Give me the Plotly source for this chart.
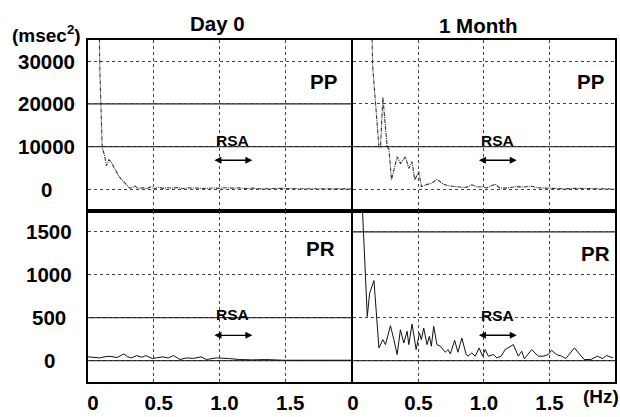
import plotly.graph_objects as go

# ---------------- data ----------------
pp_day0_f = [0.075, 0.083, 0.09, 0.1, 0.108, 0.124, 0.14, 0.159, 0.18, 0.2, 0.217, 0.235,
             0.255, 0.275, 0.293, 0.318, 0.34, 0.356, 0.375, 0.394, 0.42, 0.45, 0.475, 0.5,
             0.54, 0.57, 0.6, 0.64, 0.68, 0.72, 0.76, 0.8, 0.85, 0.9, 0.95, 1.0, 1.05, 1.1,
             1.15, 1.2, 1.25, 1.3, 1.35, 1.4, 1.45, 1.5, 1.55, 1.6, 1.65, 1.7, 1.75, 1.8,
             1.85, 1.9, 1.95, 2.0]
pp_day0_v = [60000, 36000, 28000, 18000, 9700, 8200, 5500, 6900, 6200, 5000, 3900, 3000,
             2300, 1700, 1150, 230, 400, 780, 300, 230, 350, 150, 540, 100,
             450, 200, 350, 250, 400, 150, 300, 200, 250, 150, 300, 200, 350, 250,
             300, 150, 250, 100, 200, 150, 200, 100, 150, 100, 150, 100, 120, 80,
             100, 80, 100, 80]

pp_month_f = [0.13, 0.147, 0.15, 0.198, 0.21, 0.228, 0.261, 0.274, 0.294, 0.337, 0.362, 0.40,
              0.426, 0.451, 0.471, 0.502, 0.522, 0.553, 0.60, 0.641, 0.69, 0.73, 0.755, 0.80,
              0.85, 0.882, 0.908, 0.95, 0.983, 1.02, 1.06, 1.085, 1.12, 1.16, 1.2, 1.25,
              1.3, 1.36, 1.42, 1.48, 1.55, 1.62, 1.7, 1.78, 1.85, 1.92, 2.0]
pp_month_v = [60000, 35000, 28900, 9900, 9900, 21550, 9900, 9500, 2170, 7600, 6050, 7600,
              4880, 6440, 2170, 4100, 620, 1000, 1400, 2300, 1200, 790, 700, 500,
              400, 620, 1020, 500, 600, 300, 800, 1200, 300, 250, 400, 600,
              500, 700, 300, 250, 100, 80, 200, 100, 0, 80, 50]

pr_day0_f = [0, 0.05, 0.09, 0.13, 0.167, 0.22, 0.273, 0.3, 0.33, 0.37, 0.41, 0.44, 0.49,
             0.53, 0.57, 0.61, 0.65, 0.70, 0.75, 0.80, 0.86, 0.90, 0.975, 1.076, 1.15,
             1.25, 1.35, 1.48, 1.6, 1.7, 1.8, 1.9, 2.0]
pr_day0_v = [43, 35, 31, 45, 50, 35, 78, 45, 31, 58, 38, 58, 23,
             35, 43, 30, 58, 12, 31, 25, 43, 12, 31, 23, 12,
             8, 12, 4, 4, 6, 4, 5, 4]

pr_month_f = [0.071, 0.109, 0.127, 0.16, 0.198, 0.228, 0.248, 0.286, 0.312, 0.337,
              0.362, 0.388, 0.413, 0.426, 0.451, 0.482, 0.507, 0.522, 0.540, 0.565,
              0.583, 0.598, 0.616, 0.641, 0.667, 0.705, 0.725, 0.743, 0.776, 0.801,
              0.831, 0.862, 0.877, 0.907, 0.933, 0.963, 0.989, 1.009, 1.034, 1.072,
              1.098, 1.131, 1.161, 1.224, 1.262, 1.288, 1.308, 1.364, 1.414, 1.452,
              1.49, 1.516, 1.554, 1.593, 1.624, 1.69, 1.765, 1.815, 1.866, 1.905,
              1.935, 1.985]
pr_month_v = [1800, 514, 785, 933, 147, 244, 186, 406, 244, 70,
              360, 205, 341, 186, 425, 128, 321, 244, 379, 186,
              283, 167, 399, 186, 167, 97, 128, 78, 236, 97,
              263, 81, 51, 89, 51, 147, 51, 128, 51, 70,
              31, 51, 128, 186, 51, 109, 20, 128, 51, 51,
              70, 120, 70, 51, 23, 147, 12, 12, 51, 23,
              58, 31]

x_ticks = [0, 0.5, 1.0, 1.5]
x_tick_text = ["0", "0.5", "1.0", "1.5"]
pp_ticks = [0, 10000, 20000, 30000]
pr_ticks = [0, 500, 1000, 1500]
rsa_band = [0.95, 1.25]
columns = ["Day 0", "1 Month"]

# ---------------- figure ----------------
FONT = "Liberation Sans, Arial, sans-serif"
BIG = 20.5
fig = go.Figure()

top_line = dict(color="#333333", width=1.1, dash="4px,1px,1px,1px")
bot_line = dict(color="#111111", width=1)

fig.add_trace(go.Scatter(x=pp_day0_f, y=pp_day0_v, mode="lines", line=top_line, xaxis="x", yaxis="y"))
fig.add_trace(go.Scatter(x=pp_month_f, y=pp_month_v, mode="lines", line=top_line, xaxis="x2", yaxis="y2"))
fig.add_trace(go.Scatter(x=pr_day0_f, y=pr_day0_v, mode="lines", line=bot_line, xaxis="x3", yaxis="y3"))
fig.add_trace(go.Scatter(x=pr_month_f, y=pr_month_v, mode="lines", line=bot_line, xaxis="x4", yaxis="y4"))

W, H = 620, 417
ml, mr, mt, mb = 88, 3, 40, 28
pw, ph = W - ml - mr, H - mt - mb


def px(xp):
    return (xp - ml) / pw


def py(yp):
    return (H - mb - yp) / ph


xl_dom = [0, px(352)]
xr_dom = [px(354), 1]
yt_dom = [py(214), 1]
yb_dom = [0, py(214)]

axis_common = dict(showline=True, mirror=True, linecolor="black", linewidth=1.5,
                   zeroline=False, ticks="", showgrid=True)
xgrid = dict(gridcolor="#444444", gridwidth=1, griddash="dot")
ygrid = dict(gridcolor="#444444", gridwidth=1, griddash="dot")


def bold(size=BIG):
    return dict(family=FONT, size=size, color="black", weight="bold")


tickfont = bold()

fig.update_layout(
    width=W, height=H,
    margin=dict(l=ml, r=mr, t=mt, b=mb),
    paper_bgcolor="white", plot_bgcolor="white",
    showlegend=False,
    xaxis=dict(domain=xl_dom, range=[0, 2], anchor="y", tickvals=x_ticks, showticklabels=False, **axis_common, **xgrid),
    xaxis2=dict(domain=xr_dom, range=[0, 2], anchor="y2", tickvals=x_ticks, showticklabels=False, **axis_common, **xgrid),
    xaxis3=dict(domain=xl_dom, range=[0, 2], anchor="y3", tickvals=x_ticks, ticktext=x_tick_text,
                tickfont=tickfont, ticklabelstandoff=2, ticklabelshift=5, **axis_common, **xgrid),
    xaxis4=dict(domain=xr_dom, range=[0, 2], anchor="y4", tickvals=x_ticks, ticktext=x_tick_text,
                tickfont=tickfont, ticklabelstandoff=2, **axis_common, **xgrid),
    yaxis=dict(domain=yt_dom, range=[-5000, 35000], anchor="x", tickvals=pp_ticks, showticklabels=False, **axis_common, **ygrid),
    yaxis2=dict(domain=yt_dom, range=[-5000, 35000], anchor="x2", tickvals=pp_ticks, showticklabels=False, **axis_common, **ygrid),
    yaxis3=dict(domain=yb_dom, range=[-250, 1750], anchor="x3", tickvals=pr_ticks, showticklabels=False, **axis_common, **ygrid),
    yaxis4=dict(domain=yb_dom, range=[-250, 1750], anchor="x4", tickvals=pr_ticks, showticklabels=False, **axis_common, **ygrid),
)

# solid emphasised grid lines (as seen in the scan)
solid_rules = [("x", "y", 20000), ("x", "y", 10000), ("x2", "y2", 10000),
               ("x3", "y3", 500), ("x3", "y3", 0), ("x4", "y4", 1500), ("x4", "y4", 0)]
for xa, ya, val in solid_rules:
    fig.add_shape(type="line", xref=f"{xa} domain", yref=ya, x0=0, x1=1, y0=val, y1=val,
                  line=dict(color="#222222", width=1.2), layer="below")

ann = []

# y tick labels (centred, as in the reference)
for v in pp_ticks:
    ann.append(dict(x=px(46), xref="paper", y=v, yref="y", text=f"{v}", showarrow=False,
                    xanchor="center", yanchor="middle", font=bold()))
for v in pr_ticks:
    ann.append(dict(x=px(49), xref="paper", y=v, yref="y3", text=f"{v}", showarrow=False,
                    xanchor="center", yanchor="middle", font=bold()))

ann.append(dict(x=px(46), xref="paper", y=py(34), yref="paper", text="(msec<sup>2</sup>)",
                showarrow=False, xanchor="center", yanchor="middle", font=bold(19)))
ann.append(dict(x=px(218), xref="paper", y=py(23), yref="paper", text=columns[0],
                showarrow=False, xanchor="center", yanchor="middle", font=bold()))
ann.append(dict(x=px(480), xref="paper", y=py(25), yref="paper", text=columns[1],
                showarrow=False, xanchor="center", yanchor="middle", font=bold()))
ann.append(dict(x=px(603), xref="paper", y=py(404), yref="paper", text="(Hz)",
                showarrow=False, xanchor="center", yanchor="middle", font=bold(19)))

# panel labels
for xp, yp, t in [(324, 82, "PP"), (592, 82, "PP"), (321, 253, "PR"), (597, 258, "PR")]:
    ann.append(dict(x=px(xp), xref="paper", y=py(yp), yref="paper", text=t,
                    showarrow=False, xanchor="center", yanchor="middle", font=bold()))

# RSA arrows and labels
for xa, ya, ay, ty in [("x", "y", 6800, 11400), ("x2", "y2", 6800, 11400),
                       ("x3", "y3", 294, 535), ("x4", "y4", 295, 528)]:
    ann.append(dict(x=rsa_band[1], y=ay, xref=xa, yref=ya, ax=rsa_band[0], ay=ay,
                    axref=xa, ayref=ya, text="", showarrow=True, arrowhead=2,
                    startarrowhead=2, arrowside="end+start", arrowsize=1, arrowwidth=1.4,
                    arrowcolor="black", startstandoff=0, standoff=0))
    ann.append(dict(x=sum(rsa_band) / 2, y=ty, xref=xa, yref=ya, text="RSA", showarrow=False,
                    xanchor="center", yanchor="middle", font=bold(15.5)))

fig.update_layout(annotations=ann)
fig.write_html("out.html")
